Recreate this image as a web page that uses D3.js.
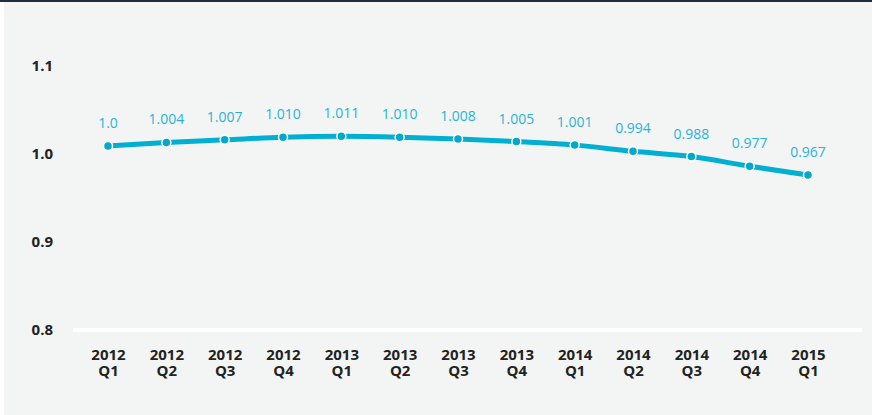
<!DOCTYPE html>
<html>
<head>
<meta charset="utf-8">
<script src="https://cdn.jsdelivr.net/npm/d3@7"></script>
<style>
  body { margin: 0; background: #fff; }
  #chart { width: 872px; height: 415px; }
  text { font-family: "Open Sans", "Noto Sans", sans-serif; }
</style>
</head>
<body>
<div id="chart"></div>
<script>
(function () {

  // the data, straight from the labels on the picture
  const years = ['2012', '2012', '2012', '2012', '2013', '2013', '2013', '2013', '2014', '2014', '2014', '2014', '2015']
  const quarters = ['Q1', 'Q2', 'Q3', 'Q4', 'Q1', 'Q2', 'Q3', 'Q4', 'Q1', 'Q2', 'Q3', 'Q4', 'Q1']
  const values = [1.0, 1.004, 1.007, 1.010, 1.011, 1.010, 1.008, 1.005, 1.001, 0.994, 0.988, 0.977, 0.967]
  const valueLabels = ['1.0', '1.004', '1.007', '1.010', '1.011', '1.010', '1.008', '1.005', '1.001', '0.994', '0.988', '0.977', '0.967']
  const yTicks = [0.8, 0.9, 1.0, 1.1]

  const width = 872
  const height = 415

  const svg = d3.select('#chart').append('svg')
      .attr('width', width)
      .attr('height', height)

  // panel background + dark strip on top
  svg.append('rect')
    .attr('x', 4).attr('y', 0)
    .attr('width', width - 4).attr('height', height)
    .attr('fill', '#f3f5f4')
  svg.append('rect')
    .attr('x', 0).attr('y', 0)
    .attr('width', width).attr('height', 2)
    .attr('fill', '#1f2d3d')

  const datapoints = values.map((v, i) => ({
    key: years[i] + ' ' + quarters[i],
    year: years[i],
    quarter: quarters[i],
    value: v,
    label: valueLabels[i]
  }))

  const xPositionScale = d3.scalePoint()
    .domain(datapoints.map(d => d.key))
    .range([108, 808])

  const yPositionScale = d3.scaleLinear()
    .domain([0.8, 1.1])
    .range([322, 58])

  // axis labels sit a little below their values in the original
  const axisShift = 8

  // y axis, labels only
  const yAxis = d3.axisLeft(yPositionScale)
    .tickValues(yTicks)
    .tickFormat(d3.format('.1f'))
    .tickSize(0)
    .tickPadding(0)
  const yG = svg.append('g')
    .attr('class', 'axis y-axis')
    .attr('transform', 'translate(53,' + axisShift + ')')
    .call(yAxis)
  yG.select('.domain').remove()
  yG.selectAll('text')
    .attr('font-size', 15)
    .attr('font-weight', 'bold')
    .attr('fill', '#222')
    .attr('font-family', '"Open Sans", sans-serif')

  // white baseline
  svg.append('line')
    .attr('x1', 73).attr('x2', 862)
    .attr('y1', yPositionScale(0.8) + axisShift)
    .attr('y2', yPositionScale(0.8) + axisShift)
    .attr('stroke', '#fff')
    .attr('stroke-width', 4)

  // x axis, two line labels
  const xAxis = d3.axisBottom(xPositionScale).tickSize(0).tickFormat('')
  const xG = svg.append('g')
    .attr('class', 'axis x-axis')
    .attr('transform', 'translate(0,' + (yPositionScale(0.8) + axisShift) + ')')
    .call(xAxis)
  xG.select('.domain').remove()
  const xt = xG.selectAll('.tick').data(datapoints)
    .append('text')
    .attr('text-anchor', 'middle')
    .attr('font-size', 15)
    .attr('font-weight', 'bold')
    .attr('fill', '#222')
    .attr('font-family', '"Open Sans", sans-serif')
  xt.append('tspan').attr('x', 0).attr('y', 30).text(d => d.year)
  xt.append('tspan').attr('x', 0).attr('y', 46).text(d => d.quarter)

  // the line
  const line = d3.line()
    .x(d => xPositionScale(d.key))
    .y(d => yPositionScale(d.value))
    .curve(d3.curveMonotoneX)

  svg.append('path')
    .datum(datapoints)
    .attr('d', line)
    .attr('fill', 'none')
    .attr('stroke', '#00afd2')
    .attr('stroke-width', 5)
    .attr('stroke-linejoin', 'round')

  svg.selectAll('.dot')
    .data(datapoints)
    .join('circle')
    .attr('class', 'dot')
    .attr('cx', d => xPositionScale(d.key))
    .attr('cy', d => yPositionScale(d.value))
    .attr('r', 4.5)
    .attr('fill', '#00a9cc')
    .attr('stroke', '#fff')
    .attr('stroke-width', 1.5)

  svg.selectAll('.value-label')
    .data(datapoints)
    .join('text')
    .attr('class', 'value-label')
    .attr('x', d => xPositionScale(d.key))
    .attr('y', d => yPositionScale(d.value) - 18)
    .attr('text-anchor', 'middle')
    .attr('font-size', 14)
    .attr('fill', '#2ab3d6')
    .text(d => d.label)

})();
</script>
</body>
</html>
